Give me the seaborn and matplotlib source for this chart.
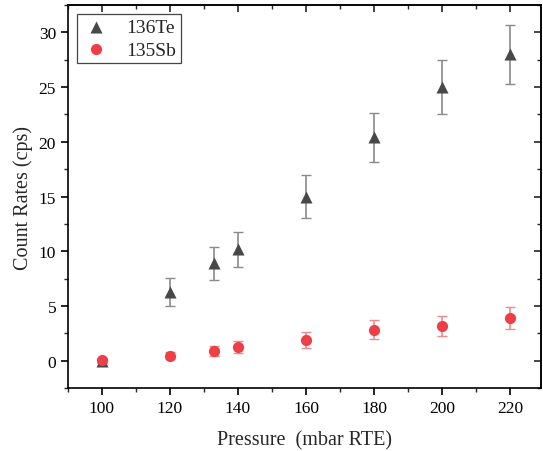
import matplotlib
matplotlib.use("Agg")
import matplotlib.pyplot as plt
from matplotlib.ticker import MultipleLocator
import seaborn as sns
import pandas as pd

# Values
pressure_te = [100, 120, 133, 140, 160, 180, 200, 220]
rate_te = [0.0, 6.3, 8.9, 10.2, 15.0, 20.4, 25.0, 28.0]
err_te = [0.2, 1.3, 1.5, 1.6, 1.95, 2.25, 2.5, 2.7]

pressure_sb = [100, 120, 133, 140, 160, 180, 200, 220]
rate_sb = [0.03, 0.48, 0.88, 1.25, 1.9, 2.85, 3.15, 3.9]
err_sb = [0.2, 0.3, 0.45, 0.55, 0.7, 0.85, 0.9, 1.0]

df_te = pd.DataFrame({"Pressure": pressure_te, "Rate": rate_te, "Err": err_te})
df_sb = pd.DataFrame({"Pressure": pressure_sb, "Rate": rate_sb, "Err": err_sb})

# Graphical parameters
te_color = "#484848"
te_err = "#8a8a8a"
sb_color = "#ee3f47"
sb_err = "#f08a8e"

sns.set_theme(style="ticks")
plt.rcParams['font.family'] = ['Liberation Serif', 'DejaVu Serif']

fig = plt.figure(figsize=(5.43, 4.52), dpi=100)
ax = fig.add_axes([0.125, 0.139, 0.871, 0.848])

ax.errorbar(df_te["Pressure"], df_te["Rate"], yerr=df_te["Err"], fmt="none",
            ecolor=te_err, elinewidth=1.2, capsize=3.5, capthick=1.0, zorder=2)
ax.errorbar(df_sb["Pressure"], df_sb["Rate"], yerr=df_sb["Err"], fmt="none",
            ecolor=sb_err, elinewidth=1.2, capsize=3.5, capthick=1.0, zorder=2)

sns.scatterplot(data=df_te, x="Pressure", y="Rate", marker="^", s=75,
                color=te_color, edgecolor=te_color, linewidth=0,
                label="136Te", ax=ax, zorder=3)
sns.scatterplot(data=df_sb, x="Pressure", y="Rate", marker="o", s=65,
                color=sb_color, edgecolor=sb_color, linewidth=0,
                label="135Sb", ax=ax, zorder=3)

ax.set_xlim(90, 229)
ax.set_ylim(-2.5, 32.5)
ax.xaxis.set_major_locator(MultipleLocator(20))
ax.xaxis.set_minor_locator(MultipleLocator(10))
ax.yaxis.set_major_locator(MultipleLocator(5))
ax.yaxis.set_minor_locator(MultipleLocator(2.5))

ax.tick_params(which="major", direction="out", length=5, width=1.2,
               labelsize=12.5, colors="black")
ax.tick_params(which="minor", direction="out", length=3, width=1.0)

for side in ["top", "right", "bottom", "left"]:
    ax.spines[side].set_visible(True)
    ax.spines[side].set_linewidth(1.2)
    ax.spines[side].set_color("black")

# mirrored inward ticks on top and right
top = ax.secondary_xaxis("top")
top.xaxis.set_major_locator(MultipleLocator(20))
top.xaxis.set_minor_locator(MultipleLocator(10))
top.tick_params(which="major", direction="in", length=5, width=1.2, labeltop=False)
top.tick_params(which="minor", direction="in", length=3, width=1.0)
right = ax.secondary_yaxis("right")
right.yaxis.set_major_locator(MultipleLocator(5))
right.yaxis.set_minor_locator(MultipleLocator(2.5))
right.tick_params(which="major", direction="in", length=5, width=1.2, labelright=False)
right.tick_params(which="minor", direction="in", length=3, width=1.0)

fontsize = 14.5
ax.set_xlabel("Pressure  (mbar RTE)", size=fontsize, labelpad=10)
ax.set_ylabel("Count Rates (cps)", size=fontsize, labelpad=4)

leg = ax.legend(loc="upper left", prop={'size': 14}, frameon=True,
                fancybox=False, edgecolor="#444444", framealpha=1,
                handlelength=1.5, handletextpad=0.8, borderaxespad=0.45,
                labelspacing=0.25, borderpad=0.25)
leg.get_frame().set_linewidth(0.9)

plt.savefig("out.png", dpi=100)
